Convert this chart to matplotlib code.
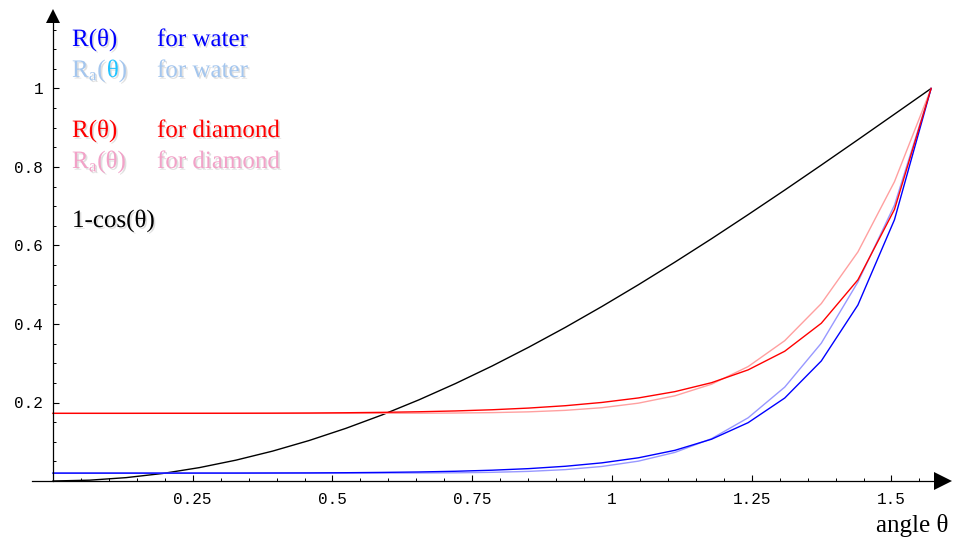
import matplotlib
matplotlib.use("Agg")
import matplotlib.pyplot as plt
import matplotlib.patheffects as pe
from matplotlib.ticker import FixedLocator, FixedFormatter

# ---------------- data ----------------
theta = [0.0, 0.0654, 0.1309, 0.1963, 0.2618, 0.3272, 0.3927, 0.4581, 0.5236,
         0.5890, 0.6545, 0.7199, 0.7854, 0.8508, 0.9163, 0.9817, 1.0472,
         1.1126, 1.1781, 1.2435, 1.3090, 1.3744, 1.4399, 1.5053, 1.5708]

one_minus_cos = [0.0, 0.0021, 0.0086, 0.0192, 0.0341, 0.0531, 0.0761, 0.1031,
                 0.1340, 0.1685, 0.2067, 0.2482, 0.2929, 0.3407, 0.3912, 0.4444,
                 0.5000, 0.5577, 0.6173, 0.6786, 0.7412, 0.8049, 0.8695, 0.9346,
                 1.0]

R_water = [0.0201, 0.0201, 0.0201, 0.0201, 0.0202, 0.0202, 0.0204, 0.0206,
           0.0211, 0.0219, 0.0230, 0.0248, 0.0275, 0.0315, 0.0375, 0.0462,
           0.0591, 0.0782, 0.1065, 0.1486, 0.2114, 0.3058, 0.4484, 0.6656, 1.0]

Ra_water = [0.0201, 0.0201, 0.0201, 0.0201, 0.0201, 0.0201, 0.0201, 0.0201,
            0.0201, 0.0202, 0.0204, 0.0209, 0.0221, 0.0245, 0.0290, 0.0370,
            0.0506, 0.0729, 0.1079, 0.1610, 0.2392, 0.3511, 0.5070, 0.7028, 1.0]

R_diamond = [0.1724, 0.1724, 0.1724, 0.1725, 0.1725, 0.1726, 0.1728, 0.1732,
             0.1739, 0.1749, 0.1764, 0.1785, 0.1815, 0.1858, 0.1918, 0.2001,
             0.2116, 0.2277, 0.2505, 0.2831, 0.3306, 0.4019, 0.5125, 0.6918, 1.0]

Ra_diamond = [0.1724, 0.1724, 0.1724, 0.1724, 0.1724, 0.1724, 0.1724, 0.1724,
              0.1724, 0.1725, 0.1727, 0.1732, 0.1742, 0.1762, 0.1800, 0.1867,
              0.1983, 0.2171, 0.2466, 0.2915, 0.3575, 0.4520, 0.5836, 0.7625, 1.0]

x_ticks = [0.25, 0.5, 0.75, 1.0, 1.25, 1.5]
x_tick_labels = ["0.25", "0.5", "0.75", "1", "1.25", "1.5"]
y_ticks = [0.2, 0.4, 0.6, 0.8, 1.0]
y_tick_labels = ["0.2", "0.4", "0.6", "0.8", "1"]
x_minor = [0.05, 0.1, 0.15, 0.2, 0.3, 0.35, 0.4, 0.45, 0.55, 0.6, 0.65, 0.7,
           0.8, 0.85, 0.9, 0.95, 1.05, 1.1, 1.15, 1.2, 1.3, 1.35, 1.4, 1.45, 1.55]
y_minor = [0.05, 0.1, 0.15, 0.25, 0.3, 0.35, 0.45, 0.5, 0.55, 0.65, 0.7, 0.75,
           0.85, 0.9, 0.95, 1.05, 1.1, 1.15]

# ---------------- styling ----------------
C_R_WATER = "#0000ff"
C_RA_WATER = "#9898ff"
C_R_DIAM = "#ff0000"
C_RA_DIAM = "#ffa0a0"
C_TXT_RA_WATER = "#a4c6ee"
C_TXT_THETA_WATER = "#22c4ff"
C_TXT_RA_DIAM = "#f2a2c8"

plt.rcParams["mathtext.fontset"] = "custom"
plt.rcParams["mathtext.rm"] = "Liberation Serif"
plt.rcParams["mathtext.it"] = "Liberation Serif:italic"

W, H = 954, 539
fig = plt.figure(figsize=(W / 100, H / 100), dpi=100)
ax = fig.add_axes([0, 0, 1, 1])
X0, SX = 53, 559.0
Y0, SY = 481, 392.5
ax.set_xlim(-X0 / SX, (W - X0) / SX)
ax.set_ylim(-(H - Y0) / SY, Y0 / SY)

ax.plot(theta, one_minus_cos, color="black", lw=1.0)
ax.plot(theta, Ra_water, color=C_RA_WATER, lw=1.0)
ax.plot(theta, Ra_diamond, color=C_RA_DIAM, lw=1.0)
ax.plot(theta, R_water, color=C_R_WATER, lw=1.0)
ax.plot(theta, R_diamond, color=C_R_DIAM, lw=1.0)

# axes lines
for s in ["top", "right"]:
    ax.spines[s].set_visible(False)
ax.spines["left"].set_position(("data", 0))
ax.spines["bottom"].set_position(("data", 0))
ax.spines["left"].set_bounds(0, (Y0 - 22) / SY)
ax.spines["bottom"].set_bounds(-21 / SX, (935 - X0) / SX)
ax.spines["left"].set_linewidth(0.9)
ax.spines["bottom"].set_linewidth(0.9)
# arrow heads
ax.plot([0], [(Y0 - 16.5) / SY], marker="^", ms=10, color="black",
        clip_on=False, mew=0)
ax.plot([(943 - X0) / SX], [0], marker=">", ms=12.5, color="black",
        clip_on=False, mew=0)

ax.xaxis.set_major_locator(FixedLocator(x_ticks))
ax.xaxis.set_major_formatter(FixedFormatter(x_tick_labels))
ax.xaxis.set_minor_locator(FixedLocator(x_minor))
ax.yaxis.set_major_locator(FixedLocator(y_ticks))
ax.yaxis.set_major_formatter(FixedFormatter(y_tick_labels))
ax.yaxis.set_minor_locator(FixedLocator(y_minor))
ax.tick_params(which="major", direction="in", length=4.5, width=0.8,
               labelsize=11.5, labelfontfamily="Liberation Mono")
ax.tick_params(which="minor", direction="in", length=2.5, width=0.7)
ax.tick_params(axis="x", which="major", pad=8)
ax.tick_params(axis="y", which="major", pad=7)

# ---------------- legend-like labels ----------------
shadow = [pe.withSimplePatchShadow(offset=(1.2, -1.2), shadow_rgbFace="0.6",
                                   alpha=0.3)]
FS = 18


def ptext(x, y, s, color, effects=True):
    return fig.text(x / W, 1 - y / H, s, color=color, fontsize=FS,
                    family="Liberation Serif", ha="left", va="baseline",
                    path_effects=shadow if effects else None)


ptext(72, 46, "R(θ)", C_R_WATER)
ptext(157, 46, "for water", C_R_WATER)

renderer = fig.canvas.get_renderer()
t1 = ptext(72, 77, r"R$_\mathrm{a}$(", C_TXT_RA_WATER)
w1 = t1.get_window_extent(renderer).width
t2 = ptext(72 + w1, 77, "θ", C_TXT_THETA_WATER)
w2 = t2.get_window_extent(renderer).width
ptext(72 + w1 + w2, 77, ")", C_TXT_RA_WATER)
ptext(157, 77, "for water", C_TXT_RA_WATER)

ptext(72, 137, "R(θ)", C_R_DIAM)
ptext(157, 137, "for diamond", C_R_DIAM)
ptext(72, 168, r"R$_\mathrm{a}$(θ)", C_TXT_RA_DIAM)
ptext(157, 168, "for diamond", C_TXT_RA_DIAM)

ptext(72, 227, "1-cos(θ)", "black")

fig.text(948 / W, 1 - 532 / H, "angle θ", color="black", fontsize=FS,
         family="Liberation Serif", ha="right", va="baseline")

fig.savefig("out.png", dpi=100)
